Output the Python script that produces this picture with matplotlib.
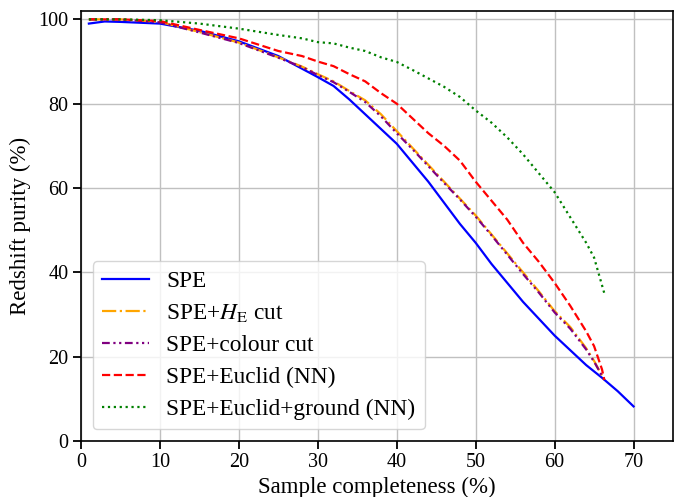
import matplotlib
matplotlib.use('Agg')
import matplotlib.pyplot as plt

# sample completeness (%) vs redshift purity (%)
spe_x = [1, 3, 5, 10, 15, 20, 25, 28, 30, 32, 34, 36, 38, 40, 42, 44, 46, 48, 50,
         52, 54, 56, 58, 60, 62, 64, 66, 68, 70]
spe_y = [99.0, 99.5, 99.4, 99.0, 97.3, 94.8, 91.3, 88.3, 86.3, 84.2, 81.0, 77.5, 74.0, 70.5,
         66.0, 61.5, 56.5, 51.5, 47.0, 42.0, 37.5, 33.0, 29.0, 25.0, 21.5, 18.0, 15.0, 11.8, 8.2]

he_x = [1, 5, 10, 15, 20, 25, 28, 30, 32, 34, 36, 38, 40, 42, 44, 46, 48, 50, 52,
        54, 56, 58, 60, 62, 64, 65, 66.3]
he_y = [100, 100, 99.4, 97.0, 94.5, 91.0, 88.8, 87.0, 85.3, 83.0, 80.8, 77.5, 73.5, 69.5,
        65.5, 61.5, 57.5, 53.5, 49.0, 44.5, 40.0, 35.5, 30.8, 27.0, 22.0, 19.0, 14.5]

col_x = [1, 5, 10, 15, 20, 25, 28, 30, 32, 34, 36, 38, 40, 42, 44, 46, 48, 50, 52,
         54, 56, 58, 60, 62, 64, 65, 66.3]
col_y = [100, 100, 99.3, 96.9, 94.4, 90.9, 88.7, 86.8, 85.1, 82.8, 80.4, 77.0, 73.0, 69.2,
         65.2, 61.2, 57.3, 53.2, 48.8, 44.2, 39.6, 35.2, 30.5, 26.6, 21.7, 18.8, 14.5]

nn_x = [1, 5, 10, 15, 20, 25, 28, 30, 32, 34, 36, 38, 40, 42, 44, 46, 48, 50, 52,
        54, 56, 58, 60, 62, 64, 65, 66, 66.3]
nn_y = [100, 100, 99.6, 97.5, 95.5, 92.5, 91.3, 90.0, 88.9, 87.0, 85.3, 82.5, 80.0, 76.5,
        73.0, 70.0, 66.5, 61.5, 57.0, 52.5, 47.0, 42.5, 37.5, 32.0, 26.0, 22.5, 17.0, 14.5]

gr_x = [1, 5, 10, 15, 20, 25, 28, 30, 32, 34, 36, 38, 40, 42, 44, 46, 48, 50, 52,
        54, 56, 58, 60, 62, 63, 64, 65, 66.3]
gr_y = [100, 100, 99.8, 99.0, 97.8, 96.3, 95.5, 94.6, 94.3, 93.3, 92.5, 91.0, 89.9, 88.0,
        86.0, 84.0, 81.6, 78.4, 75.5, 72.0, 68.0, 63.5, 59.0, 53.0, 50.0, 47.0, 43.5, 35.0]

plt.rcParams['font.family'] = ['Liberation Serif', 'DejaVu Serif']
plt.rcParams['mathtext.fontset'] = 'stix'
plt.rcParams['font.size'] = 14

fig = plt.figure(figsize=(6.76, 4.97), dpi=100)
ax = fig.add_axes([0.1198, 0.1127, 0.8758, 0.8653])

ax.plot(spe_x, spe_y, color='blue', lw=1.6, ls='-', label='SPE')
ax.plot(he_x, he_y, color='orange', lw=1.6, ls='-.', label=r'SPE+$H_\mathrm{E}$ cut')
ax.plot(col_x, col_y, color='purple', lw=1.6, ls=(0, (3.5, 1.6, 1, 1.6, 1, 1.6)),
        label='SPE+colour cut')
ax.plot(nn_x, nn_y, color='red', lw=1.6, ls='--', label='SPE+Euclid (NN)')
ax.plot(gr_x, gr_y, color='green', lw=1.6, ls=':', label='SPE+Euclid+ground (NN)')

ax.set_xlim(0, 75)
ax.set_ylim(0, 102)
ax.set_xticks([0, 10, 20, 30, 40, 50, 60, 70])
ax.set_yticks([0, 20, 40, 60, 80, 100])
ax.grid(True, color='#c0c0c0', lw=1)
ax.set_axisbelow(True)
ax.tick_params(direction='out', length=5.5, width=1.3, labelsize=14.5)
for s in ax.spines.values():
    s.set_linewidth(1.2)

ax.set_xlabel('Sample completeness (%)', fontsize=16.5, labelpad=3)
ax.set_ylabel('Redshift purity (%)', fontsize=16.5, labelpad=5)
ax.legend(loc='lower left', fontsize=16.8, bbox_to_anchor=(0.0, 0.0),
          borderaxespad=0.5, handlelength=2.0, labelspacing=0.45,
          handletextpad=0.75)

fig.savefig('out.png', dpi=100)
